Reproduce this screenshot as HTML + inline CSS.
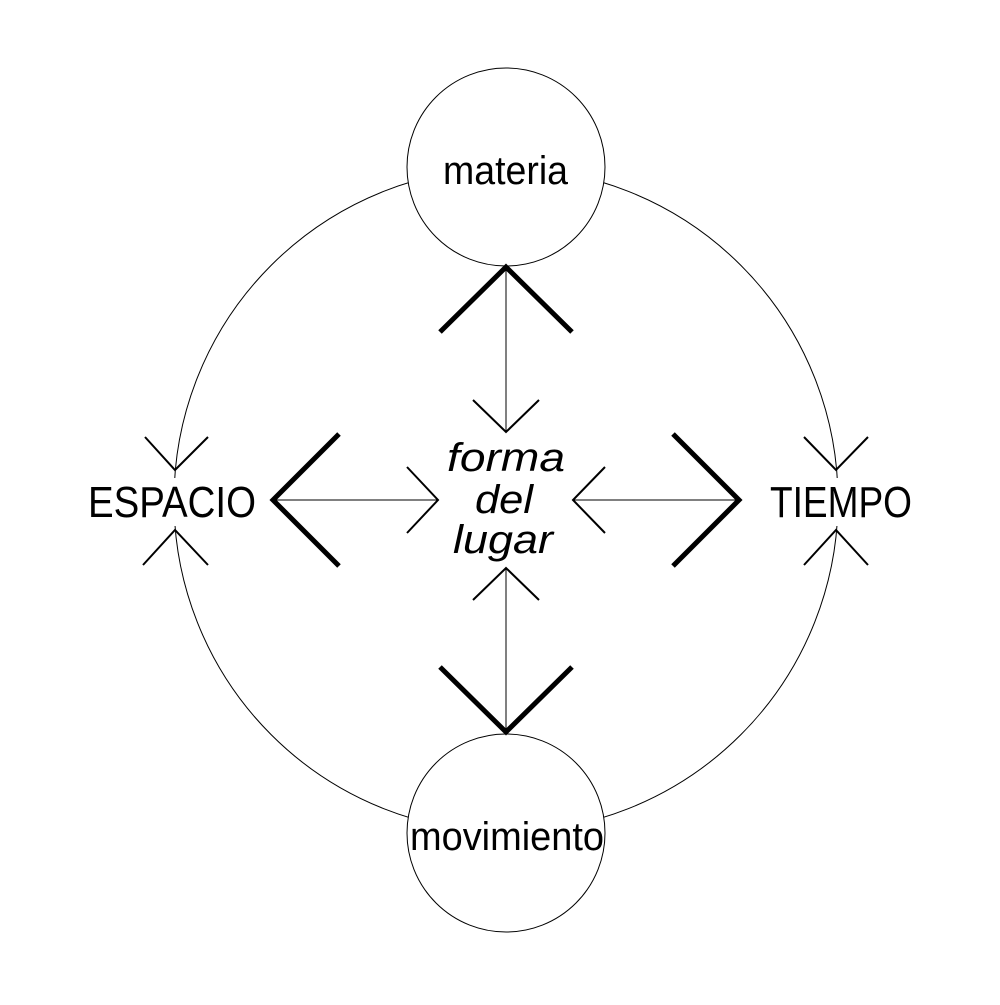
<!DOCTYPE html>
<html><head><meta charset="utf-8"><style>html,body{margin:0;padding:0;background:#fff}</style></head>
<body>
<svg width="1000" height="1000" viewBox="0 0 1000 1000" xmlns="http://www.w3.org/2000/svg">
<rect width="1000" height="1000" fill="#fff"/>
<circle cx="506" cy="500" r="332" fill="none" stroke="#000" stroke-width="1"/>
<circle cx="506" cy="167" r="99" fill="#fff" stroke="#000" stroke-width="1"/>
<circle cx="506" cy="833" r="99" fill="#fff" stroke="#000" stroke-width="1"/>
<rect x="80" y="478" width="185" height="48" fill="#fff"/>
<rect x="760" y="478" width="160" height="48" fill="#fff"/>
<g stroke="#000" fill="none" stroke-width="2">
<polyline points="145,437 175,470 208,437"/>
<polyline points="143,565 175,530 208,565"/>
<polyline points="804,437 836,470 868,437"/>
<polyline points="804,565 836,530 868,565"/>
<polyline points="407,467 438,500 407,533"/>
<polyline points="605,467 573,500 605,533"/>
<polyline points="473,400 506,432 539,400"/>
<polyline points="473,600 506,568 539,600"/>
</g>
<g stroke="#000" stroke-width="1">
<line x1="272" y1="500" x2="438" y2="500"/>
<line x1="573" y1="500" x2="740" y2="500"/>
<line x1="506" y1="266" x2="506" y2="432"/>
<line x1="506" y1="568" x2="506" y2="733"/>
</g>
<g stroke="#000" fill="none" stroke-width="5">
<polyline points="339,434 273,500 339,566"/>
<polyline points="673,434 739,500 673,566"/>
<polyline points="440,332 506,267 572,332"/>
<polyline points="440,667 506,732 572,667"/>
</g>
<g font-family="Liberation Sans, sans-serif" fill="#000">
<text x="443" y="184" font-size="40" textLength="125" lengthAdjust="spacingAndGlyphs">materia</text>
<text x="410" y="850" font-size="40" textLength="194" lengthAdjust="spacingAndGlyphs">movimiento</text>
<text x="88" y="517" font-size="44" textLength="168" lengthAdjust="spacingAndGlyphs">ESPACIO</text>
<text x="770" y="517" font-size="44" textLength="142" lengthAdjust="spacingAndGlyphs">TIEMPO</text>
<g font-style="italic" font-size="40">
<text x="447" y="471" textLength="118" lengthAdjust="spacingAndGlyphs">forma</text>
<text x="475" y="513" textLength="58" lengthAdjust="spacingAndGlyphs">del</text>
<text x="453" y="553" textLength="100" lengthAdjust="spacingAndGlyphs">lugar</text>
</g>
</g>
</svg>
</body></html>
